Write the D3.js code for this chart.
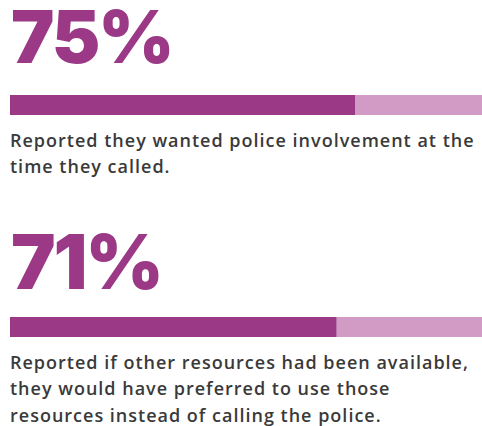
<!DOCTYPE html>
<html>
<head>
<meta charset="utf-8">
<script src="https://cdn.jsdelivr.net/npm/d3@7"></script>
<style>
  html, body { margin: 0; padding: 0; background: #fff; }
  svg { display: block; }
</style>
</head>
<body>
<svg id="chart" width="482" height="426"></svg>
<script>
// Share of callers for each statement
const values = [75, 71];
const valueLabels = ["75%", "71%"];
const descriptions = [
  ["Reported they wanted police involvement at the", "time they called."],
  ["Reported if other resources had been available,",
   "they would have preferred to use those",
   "resources instead of calling the police."]
];

const W = 482, H = 426;
const dark = "#9b3987", light = "#d29bc5", textColor = "#3a3a3a";

const svg = d3.select("#chart");
const x = d3.scaleLinear().domain([0, 100]).range([10, 470]);

// vertical placement of each stat block
const blockTop = [0, 222];

const blocks = svg.selectAll("g.stat")
  .data(values)
  .join("g")
  .attr("class", "stat")
  .attr("transform", (d, i) => `translate(0,${blockTop[i]})`);

// big percentage figure
blocks.append("text")
  .attr("x", 11)
  .attr("y", (d, i) => i === 0 ? 63 : 67)
  .attr("font-family", "Inter, 'Noto Sans', sans-serif")
  .attr("font-weight", 900)
  .attr("font-size", (d, i) => i === 0 ? 73 : 75)
  .attr("letter-spacing", -2)
  .attr("fill", dark)
  .text((d, i) => valueLabels[i]);

// remaining track
blocks.append("rect")
  .attr("x", d => x(d))
  .attr("y", 95)
  .attr("width", d => W - x(d))
  .attr("height", 20)
  .attr("fill", light);

// filled share
blocks.append("rect")
  .attr("x", x(0))
  .attr("y", 95)
  .attr("width", d => x(d) - x(0))
  .attr("height", 20)
  .attr("fill", dark);

// description lines
blocks.each(function(d, i) {
  const g = d3.select(this);
  g.append("text")
    .attr("font-family", "'Open Sans', sans-serif")
    .attr("font-weight", 600)
    .attr("font-size", 18)
    .attr("letter-spacing", 1.0)
    .attr("fill", textColor)
    .selectAll("tspan")
    .data(descriptions[i])
    .join("tspan")
    .attr("x", 10)
    .attr("y", (t, j) => 146.5 + j * 26.8)
    .text(t => t);
});
</script>
</body>
</html>
